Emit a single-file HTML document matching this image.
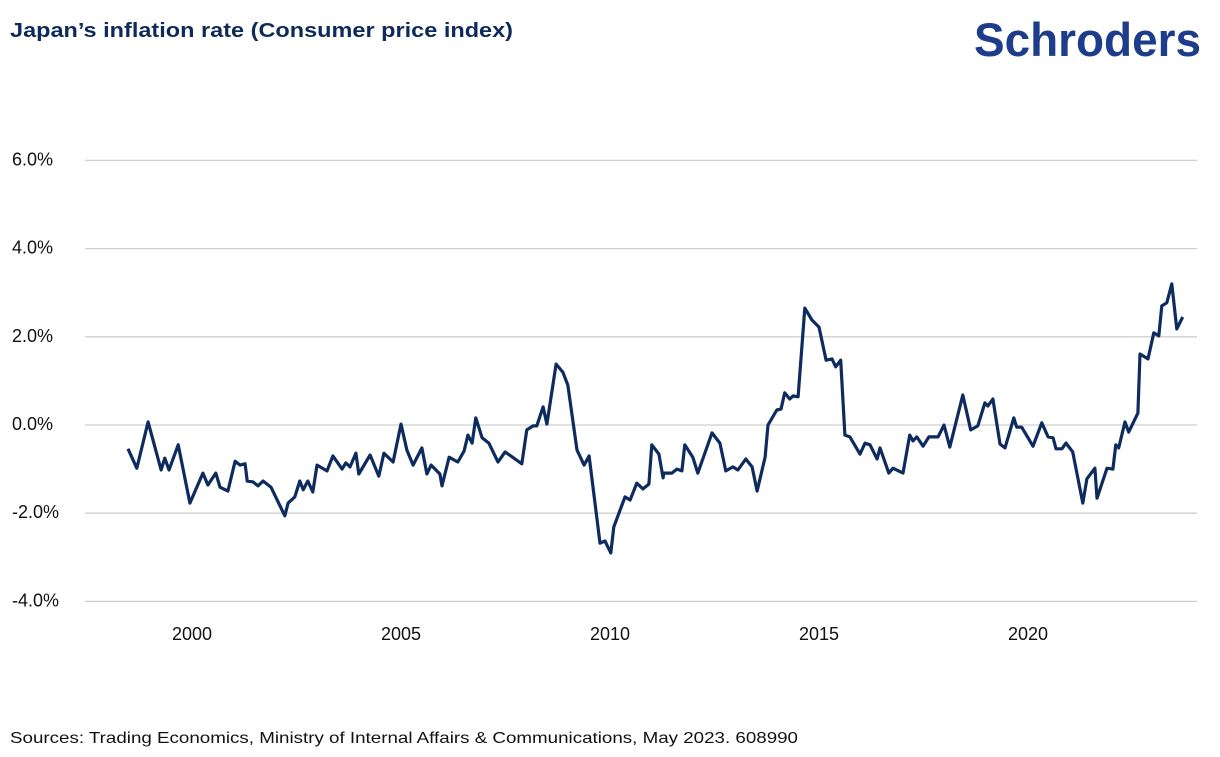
<!DOCTYPE html>
<html><head><meta charset="utf-8"><style>
html,body{margin:0;padding:0;background:#fff;}
svg{display:block;font-family:"Liberation Sans",sans-serif;}
</style></head><body>
<svg id="chart" width="1220" height="757" viewBox="0 0 1220 757" xmlns="http://www.w3.org/2000/svg">
<text x="10" y="37" font-size="20" font-weight="bold" fill="#0e2a5a" textLength="503" lengthAdjust="spacingAndGlyphs">Japan’s inflation rate (Consumer price index)</text>
<text x="974" y="56" font-size="47" font-weight="bold" fill="#1d3c8c" textLength="227" lengthAdjust="spacingAndGlyphs">Schroders</text>
<g id="grid"></g>
<g id="yaxis"></g>
<g id="xaxis"></g>
<g id="series"></g>
<text x="10" y="743" font-size="16" fill="#111" textLength="788" lengthAdjust="spacingAndGlyphs">Sources: Trading Economics, Ministry of Internal Affairs &amp; Communications, May 2023. 608990</text>
</svg>
<script>
const yTicks=[6,4,2,0,-2,-4];
const yTickLabels=["6.0%","4.0%","2.0%","0.0%","-2.0%","-4.0%"];
const xTicks=[2000,2005,2010,2015,2020];
const xTickLabels=["2000","2005","2010","2015","2020"];
const dates=[1998.47,1998.68,1998.95,1999.26,1999.35,1999.45,1999.67,1999.95,2000.26,2000.38,2000.57,2000.67,2000.86,2001.03,2001.15,2001.27,2001.32,2001.46,2001.58,2001.70,2001.89,2002.22,2002.30,2002.46,2002.58,2002.66,2002.77,2002.89,2002.99,2003.23,2003.37,2003.59,2003.68,2003.78,2003.92,2003.99,2004.26,2004.47,2004.59,2004.81,2005.00,2005.14,2005.29,2005.50,2005.62,2005.72,2005.93,2005.98,2006.15,2006.36,2006.51,2006.60,2006.70,2006.79,2006.94,2007.10,2007.32,2007.49,2007.89,2008.01,2008.16,2008.25,2008.40,2008.49,2008.71,2008.87,2008.99,2009.21,2009.38,2009.50,2009.76,2009.88,2010.02,2010.09,2010.36,2010.48,2010.64,2010.79,2010.93,2011.00,2011.17,2011.27,2011.29,2011.48,2011.60,2011.72,2011.79,2011.98,2012.10,2012.44,2012.63,2012.77,2012.94,2013.06,2013.25,2013.40,2013.52,2013.71,2013.78,2013.99,2014.09,2014.18,2014.30,2014.38,2014.50,2014.66,2014.83,2015.00,2015.17,2015.31,2015.40,2015.52,2015.62,2015.74,2015.98,2016.10,2016.22,2016.39,2016.46,2016.67,2016.77,2017.01,2017.17,2017.25,2017.34,2017.49,2017.63,2017.85,2017.99,2018.13,2018.44,2018.63,2018.80,2018.97,2019.04,2019.16,2019.33,2019.45,2019.66,2019.73,2019.85,2020.12,2020.33,2020.48,2020.60,2020.67,2020.81,2020.91,2021.07,2021.31,2021.41,2021.60,2021.65,2021.89,2022.03,2022.10,2022.17,2022.32,2022.41,2022.63,2022.68,2022.87,2023.01,2023.13,2023.20,2023.32,2023.44,2023.56,2023.70];
const cpi=[-0.54,-0.98,0.07,-1.02,-0.75,-1.02,-0.45,-1.77,-1.09,-1.36,-1.09,-1.41,-1.50,-0.82,-0.91,-0.88,-1.27,-1.29,-1.38,-1.27,-1.41,-2.06,-1.77,-1.63,-1.27,-1.47,-1.27,-1.52,-0.91,-1.04,-0.70,-1.00,-0.86,-0.95,-0.64,-1.11,-0.68,-1.16,-0.64,-0.84,0.02,-0.57,-0.91,-0.52,-1.11,-0.91,-1.11,-1.38,-0.73,-0.84,-0.59,-0.23,-0.41,0.16,-0.29,-0.41,-0.84,-0.61,-0.88,-0.11,-0.02,-0.02,0.41,0.02,1.38,1.20,0.91,-0.57,-0.91,-0.70,-2.68,-2.63,-2.90,-2.31,-1.63,-1.70,-1.32,-1.45,-1.34,-0.45,-0.66,-1.20,-1.09,-1.09,-1.00,-1.04,-0.45,-0.73,-1.09,-0.18,-0.41,-1.04,-0.95,-1.02,-0.77,-0.95,-1.50,-0.73,0.00,0.34,0.36,0.73,0.59,0.66,0.64,2.65,2.38,2.22,1.47,1.50,1.32,1.47,-0.23,-0.27,-0.66,-0.41,-0.45,-0.77,-0.52,-1.09,-0.98,-1.09,-0.23,-0.36,-0.27,-0.48,-0.27,-0.27,0.00,-0.50,0.68,-0.11,-0.02,0.50,0.43,0.59,-0.43,-0.52,0.16,-0.05,-0.05,-0.48,0.05,-0.27,-0.29,-0.54,-0.54,-0.41,-0.61,-1.77,-1.22,-0.98,-1.66,-0.98,-1.00,-0.45,-0.52,0.07,-0.16,0.27,1.61,1.50,2.09,2.02,2.70,2.77,3.20,2.18,2.45];

const NS="http://www.w3.org/2000/svg";
function xs(yr){return 192+(yr-2000)*41.8;}
function ys(v){return 425-v*44.1;}
const grid=document.getElementById('grid'),ya=document.getElementById('yaxis'),xa=document.getElementById('xaxis'),se=document.getElementById('series');
yTicks.forEach((t,i)=>{
  const l=document.createElementNS(NS,'line');
  
  
  l.setAttribute('x1',85);l.setAttribute('x2',1197);
  l.setAttribute('y1',ys(t));l.setAttribute('y2',ys(t));
  l.setAttribute('stroke','#cfcfcf');l.setAttribute('stroke-width','1.3');
  grid.appendChild(l);
  const tx=document.createElementNS(NS,'text');
  
  
  tx.setAttribute('x',12);tx.setAttribute('y',ys(t)+5);
  tx.setAttribute('font-size','18');tx.setAttribute('fill','#111');
  tx.textContent=yTickLabels[i];
  ya.appendChild(tx);
});
xTicks.forEach((t,i)=>{
  const tx=document.createElementNS(NS,'text');
  
  
  tx.setAttribute('x',xs(t));tx.setAttribute('y',640);
  tx.setAttribute('font-size','18');tx.setAttribute('fill','#111');
  tx.setAttribute('text-anchor','middle');
  tx.textContent=xTickLabels[i];
  xa.appendChild(tx);
});
const p=document.createElementNS(NS,'path');


p.setAttribute('d',dates.map((d,i)=>(i?'L':'M')+xs(d).toFixed(1)+' '+ys(cpi[i]).toFixed(1)).join(' '));
p.setAttribute('fill','none');p.setAttribute('stroke','#0d2b5e');p.setAttribute('stroke-width','3.2');
p.setAttribute('stroke-linejoin','round');
se.appendChild(p);
</script>
</body></html>
